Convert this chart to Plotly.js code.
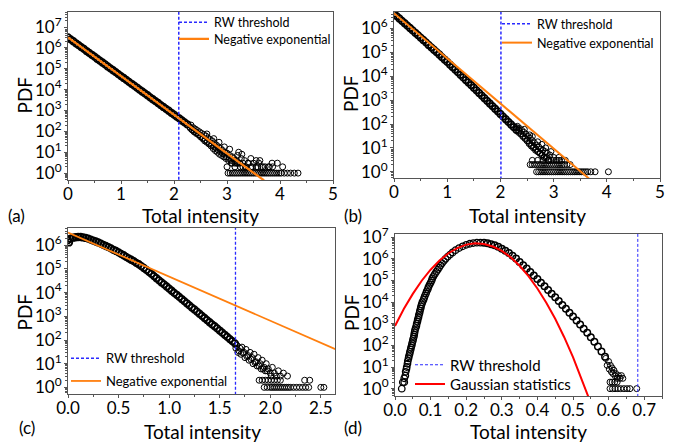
<!DOCTYPE html>
<html><head><meta charset="utf-8">
<script src="https://cdn.plot.ly/plotly-3.0.1.min.js"></script>
<style>html,body{margin:0;padding:0;background:#fff}#chart{width:680px;height:443px}</style>
</head><body><div id="chart"></div>
<script>
// ---------------- Panel (a) ----------------
const aBandX = [0,0.05,0.10,0.15,0.20,0.25,0.30,0.35,0.40,0.45,0.50,0.55,0.60,0.65,0.70,0.75,0.80,0.85,0.90,0.95,1.00,1.05,1.10,1.15,1.20,1.25,1.30,1.35,1.40,1.45,1.50,1.55,1.60,1.65,1.70,1.75,1.80,1.85,1.90,1.95,2.00,2.05,2.10,2.15,2.20,2.25];
const aBandLogPdf = [6.50,6.41,6.32,6.22,6.13,6.04,5.95,5.85,5.76,5.67,5.58,5.48,5.39,5.30,5.21,5.11,5.02,4.93,4.84,4.74,4.65,4.56,4.47,4.37,4.28,4.19,4.10,4.00,3.91,3.82,3.73,3.63,3.54,3.45,3.36,3.26,3.17,3.08,2.99,2.89,2.80,2.71,2.62,2.52,2.43,2.34];
const aTailX = [2.30,2.32,2.34,2.36,2.38,2.40,2.42,2.44,2.46,2.48,2.50,2.52,2.54,2.56,2.58,2.60,2.62,2.64,2.66,2.68,2.70,2.72,2.74,2.76,2.78,2.80,2.82,2.84,2.86,2.88,2.90,2.92,2.94,2.96,2.98,3.00,3.03,3.05,3.08,3.10,3.13,3.15,3.18,3.20,3.24,3.27,3.30,3.33,3.36,3.40,3.45,3.50,3.55,3.60,3.65,3.72,3.80,3.86,3.95,4.05,
  2.31,2.35,2.39,2.43,2.47,2.51,2.55,2.59,2.63,2.67,2.71,2.75,2.79,2.83,2.87,2.91,2.95,2.99,3.04,3.09,3.14,3.19,
  2.62,2.75,2.85,2.95,3.05,3.22,3.28,3.45,3.55,3.62,3.85,
  3.10,3.20,3.30,3.40,3.00,3.15,3.25,3.35,3.48,3.58,3.68,3.78,
  3.02,3.06,3.10,3.14,3.18,3.22,3.26,3.30,3.34,3.38,3.42,3.46,3.50,3.54,3.58,3.62,3.66,3.70,3.74,3.78,3.82,3.86,3.90,3.94,3.98,4.02,4.08,4.14,4.20,4.27,4.34];
const aTailPdf = [160,200,120,150,95,130,80,110,70,95,55,80,45,70,35,60,30,48,25,40,20,35,15,28,12,22,10,18,8,15,7,12,6,10,5,9,4,7,3,6,5,3,4,7,3,5,2,4,2,3,2,3,2,3,2,2,2,2,3,2,
  140,115,100,85,70,58,48,40,33,28,23,19,16,13,11,9,8,6,5,4,4,3,
  75,45,30,18,14,10,8,5,4,4,3,
  3,3,3,3,2,2,2,2,2,2,2,2,
  1,1,1,1,1,1,1,1,1,1,1,1,1,1,1,1,1,1,1,1,1,1,1,1,1,1,1,1,1,1,1];
const aFitX = [0, 3.7];
const aFitLogPdf = [6.50, -0.35];
const aThreshold = 2.09;

// ---------------- Panel (b) ----------------
const bBandX = [0,0.05,0.10,0.15,0.20,0.25,0.30,0.35,0.40,0.45,0.50,0.55,0.60,0.65,0.70,0.75,0.80,0.85,0.90,0.95,1.00,1.05,1.10,1.15,1.20,1.25,1.30,1.35,1.40,1.45,1.50,1.55,1.60,1.65,1.70,1.75,1.80,1.85,1.90,1.95,2.00,2.05,2.10,2.15,2.20,2.25,2.30];
const bBandLogPdf = [6.62,6.52,6.42,6.32,6.22,6.12,6.02,5.92,5.82,5.72,5.62,5.52,5.42,5.31,5.21,5.11,5.01,4.91,4.80,4.70,4.60,4.49,4.38,4.28,4.17,4.06,3.95,3.84,3.74,3.63,3.52,3.41,3.30,3.19,3.08,2.97,2.86,2.75,2.64,2.53,2.42,2.31,2.20,2.09,1.98,1.87,1.76];
const bTailX = [2.32,2.34,2.36,2.38,2.40,2.42,2.44,2.46,2.48,2.50,2.52,2.54,2.56,2.58,2.60,2.62,2.64,2.66,2.68,2.70,2.72,2.74,2.76,2.78,2.80,2.82,2.84,2.86,2.88,2.90,2.93,2.96,3.00,3.05,3.10,3.15,3.22,
  2.31,2.35,2.39,2.43,2.47,2.51,2.55,2.59,2.63,2.67,2.71,2.75,2.79,2.83,2.87,2.91,
  2.45,2.55,2.60,2.70,2.78,2.85,2.95,
  2.60,2.70,2.80,2.90,3.00,3.10,
  2.56,2.60,2.64,2.68,2.72,2.76,2.80,2.84,2.88,2.92,2.96,3.00,3.04,3.08,3.12,3.16,3.20,3.25,3.31,
  2.68,2.72,2.76,2.80,2.84,2.88,2.92,2.96,3.00,3.04,3.08,3.12,3.16,3.20,3.24,3.28,3.32,3.36,3.40,3.44,3.48,3.52,3.56,3.60,3.64,3.70,3.78,4.03];
const bTailPdf = [80,45,65,38,55,30,45,25,38,20,30,15,25,12,20,10,16,8,13,7,11,6,9,5,8,4,7,4,6,3,5,3,4,3,4,3,3,
  70,52,40,32,25,20,16,13,11,9,7,6,5,4,4,3,
  60,35,30,18,14,10,7,
  3,3,3,3,3,3,
  2,2,2,2,2,2,2,2,2,2,2,2,2,2,2,2,2,2,2,
  1,1,1,1,1,1,1,1,1,1,1,1,1,1,1,1,1,1,1,1,1,1,1,1,1,1,1,1];
const bFitX = [0, 3.7];
const bFitLogPdf = [6.64, -0.35];
const bThreshold = 2.01;

// ---------------- Panel (c) ----------------
const cBandX = [0,0.01,0.025,0.05,0.075,0.1,0.125,0.15,0.175,0.2,0.225,0.25,0.275,0.3,0.325,0.35,0.375,0.4,0.425,0.45,0.475,0.5,0.525,0.55,0.575,0.6,0.625,0.65,0.675,0.7,0.725,0.75,0.775,0.8,0.825,0.85,0.875,0.9,0.925,0.95,0.975,1.0,1.025,1.05,1.075,1.1,1.125,1.15,1.175,1.2,1.225,1.25,1.275,1.3,1.325,1.35,1.375,1.4,1.425,1.45,1.475,1.5,1.525,1.55,1.575,1.6,1.625,1.65];
const cBandLogPdf = [6.22,6.12,6.28,6.32,6.34,6.35,6.35,6.33,6.31,6.28,6.24,6.20,6.16,6.12,6.07,6.02,5.97,5.92,5.87,5.81,5.76,5.70,5.64,5.58,5.51,5.45,5.39,5.33,5.26,5.20,5.12,5.04,4.96,4.88,4.79,4.70,4.61,4.52,4.43,4.35,4.26,4.17,4.08,3.99,3.91,3.82,3.73,3.64,3.55,3.46,3.37,3.29,3.20,3.11,3.02,2.93,2.84,2.75,2.66,2.58,2.49,2.40,2.31,2.22,2.13,2.04,1.95,1.86];
const cTailX = [1.67,1.68,1.70,1.71,1.72,1.74,1.75,1.76,1.78,1.79,1.80,1.82,1.83,1.84,1.86,1.87,1.88,1.90,1.91,1.92,1.94,1.95,1.96,1.98,2.00,2.02,2.04,2.06,2.08,2.10,2.13,2.17,
  1.66,1.69,1.73,1.77,1.81,1.85,1.89,1.93,1.97,2.01,
  1.89,1.92,1.95,1.98,2.01,2.04,2.07,2.10,2.34,2.39,
  1.94,1.97,2.00,2.02,2.04,2.06,2.08,2.10,2.12,2.14,2.16,2.18,2.20,2.23,2.26,2.29,2.32,2.35,2.38,2.50,2.53];
const cTailPdf = [60,30,45,25,50,30,18,40,22,14,30,18,10,25,12,8,18,10,6,14,7,5,10,6,4,7,4,3,5,3,4,3,
  45,35,28,20,15,11,8,6,5,3,
  2,2,2,2,2,2,2,2,2,2,
  1,1,1,1,1,1,1,1,1,1,1,1,1,1,1,1,1,1,1,1,1];
const cFitX = [0, 2.7];
const cFitLogPdf = [6.54, 1.51];
const cThreshold = 1.656;

// ---------------- Panel (d) ----------------
const dLeftX = [0.019,0.022,0.026,0.026,0.029,0.030,0.032,0.033,0.035,0.036,0.038,0.039,0.041,0.042,0.044,0.045,0.047,0.048,0.050,0.051,0.053,0.054,0.055,0.056,0.058,0.060,0.061,0.063,0.064,0.066,0.067,0.069,0.070,0.072,0.073,0.075,0.077,0.080,0.082,0.084,0.087,0.089,0.092,0.094,0.097,0.100,0.103,0.105,0.108,0.112,0.116,0.120,0.124,0.128,0.132,0.137,0.142,0.148,0.155,0.162,0.170,0.180,0.190,0.200,0.210,0.220,0.230,0.240];
const dLeftLogPdf = [0.0,0.3,0.3,0.48,0.6,0.78,0.9,1.0,1.15,1.28,1.4,1.5,1.6,1.7,1.8,1.9,2.0,2.1,2.2,2.3,2.4,2.5,2.6,2.7,2.8,2.9,3.0,3.1,3.2,3.3,3.4,3.5,3.6,3.7,3.8,3.9,4.0,4.1,4.2,4.3,4.4,4.5,4.6,4.7,4.8,4.9,5.0,5.1,5.2,5.3,5.4,5.5,5.6,5.7,5.8,5.9,6.0,6.1,6.2,6.3,6.4,6.5,6.58,6.65,6.7,6.73,6.75,6.75];
const dRightX = [0.25,0.26,0.27,0.28,0.29,0.30,0.31,0.32,0.33,0.34,0.35,0.36,0.37,0.38,0.39,0.40,0.41,0.42,0.43,0.44,0.45,0.46,0.47,0.48,0.49,0.50,0.51,0.52,0.53,0.54,0.55,0.56,0.57,0.58,0.59];
const dRightLogPdf = [6.74,6.72,6.68,6.63,6.56,6.47,6.38,6.27,6.15,6.02,5.85,5.70,5.55,5.39,5.23,5.07,4.90,4.73,4.56,4.39,4.22,4.05,3.87,3.69,3.51,3.33,3.15,2.96,2.77,2.58,2.38,2.17,1.95,1.72,1.48];
const dTailX = [0.592,0.596,0.600,0.602,0.605,0.608,0.610,0.612,0.615,0.618,0.620,0.624,0.628,0.632,0.636,0.640,
  0.604,0.610,0.617,0.624,
  0.604,0.611,0.618,0.626,0.634,0.643,0.652,0.660,0.679];
const dTailPdf = [25,12,18,8,12,6,9,5,7,4,5,3,4,3,4,3,
  2,2,2,2,
  1,1,1,1,1,1,1,1,1];
const dGaussX = [0,0.025,0.05,0.075,0.1,0.125,0.15,0.175,0.2,0.225,0.25,0.275,0.3,0.325,0.35,0.375,0.4,0.425,0.45,0.475,0.5,0.525,0.55];
const dGaussLogPdf = [2.90,3.69,4.38,4.99,5.50,5.92,6.26,6.50,6.66,6.72,6.69,6.57,6.37,6.07,5.68,5.20,4.63,3.97,3.23,2.39,1.46,0.44,-0.67];
const dThreshold = 0.682;

// ---------------- Tick labels & texts ----------------
const yTickVals = [1,10,100,1e3,1e4,1e5,1e6,1e7];
const yTickText = ['10<sup>0</sup>','10<sup>1</sup>','10<sup>2</sup>','10<sup>3</sup>','10<sup>4</sup>','10<sup>5</sup>','10<sup>6</sup>','10<sup>7</sup>'];
const labelThreshold = 'RW threshold';
const labelExp = 'Negative exponential';
const labelGauss = 'Gaussian statistics';
const xTitle = 'Total intensity';
const yTitle = 'PDF';
const panelLetters = ['(a)','(b)','(c)','(d)'];

// ---------------- Build ----------------
const FONT = 'Lato, "Open Sans", sans-serif';
const W = 680, H = 443;
const px = v => v / W, py = v => 1 - v / H;
const p10 = a => a.map(v => Math.pow(10, v));
const BLUE = '#2a2aff', ORANGE = '#ff7f0e', RED = '#ff0000';

function pts(x, y, xa, ya, size, lw) {
  return {type:'scatter', mode:'markers', x:x, y:y, xaxis:xa, yaxis:ya, showlegend:false, hoverinfo:'skip',
    marker:{symbol:'circle-open', size:size, color:'#000', line:{width:lw, color:'#000'}}};
}
function vline(t, xa, ya, leg, w) {
  return {type:'scatter', mode:'lines', x:[t,t], y:[1e-2,1e9], xaxis:xa, yaxis:ya, legend:leg, name:labelThreshold,
    line:{color:BLUE, width:w, dash:'3px,2px'}, hoverinfo:'skip'};
}
function fit(x, y, xa, ya, leg, name, color, w) {
  return {type:'scatter', mode:'lines', x:x, y:y, xaxis:xa, yaxis:ya, legend:leg, name:name,
    line:{color:color, width:w}, hoverinfo:'skip'};
}

const traces = [
  pts(aBandX, p10(aBandLogPdf), 'x', 'y', 6.5, 1.8),
  pts(aTailX, aTailPdf, 'x', 'y', 6, 1),
  vline(aThreshold, 'x', 'y', 'legend', 1.5),
  fit(aFitX, p10(aFitLogPdf), 'x', 'y', 'legend2', labelExp, ORANGE, 2.2),

  pts(bBandX, p10(bBandLogPdf), 'x2', 'y2', 6.5, 1.8),
  pts(bTailX, bTailPdf, 'x2', 'y2', 6, 1),
  vline(bThreshold, 'x2', 'y2', 'legend3', 1.5),
  fit(bFitX, p10(bFitLogPdf), 'x2', 'y2', 'legend4', labelExp, ORANGE, 2),

  pts(cBandX, p10(cBandLogPdf), 'x3', 'y3', 6.5, 1.8),
  pts(cTailX, cTailPdf, 'x3', 'y3', 6, 1),
  vline(cThreshold, 'x3', 'y3', 'legend5', 1.3),
  fit(cFitX, p10(cFitLogPdf), 'x3', 'y3', 'legend6', labelExp, ORANGE, 1.8),

  pts(dLeftX, p10(dLeftLogPdf), 'x4', 'y4', 6.5, 1.3),
  pts(dRightX, p10(dRightLogPdf), 'x4', 'y4', 6.5, 1.5),
  pts(dTailX, dTailPdf, 'x4', 'y4', 6, 1),
  vline(dThreshold, 'x4', 'y4', 'legend7', 1),
  fit(dGaussX, p10(dGaussLogPdf), 'x4', 'y4', 'legend8', labelGauss, RED, 2)
];

const base = {showline:true, linecolor:'#555', linewidth:1, mirror:true, ticks:'outside', ticklen:3, tickwidth:1,
  tickcolor:'#555', showgrid:false, zeroline:false, tickfont:{family:FONT, size:17, color:'#000'}};
function xax(dom, range, dtick, anchor, fmt) {
  return Object.assign({}, base, {domain:dom, range:range, dtick:dtick, tick0:0, anchor:anchor, tickformat:fmt,
    ticklabelstandoff:-4, minor:{ticks:'outside', ticklen:2, dtick:dtick/2, tickcolor:'#555'}});
}
function yax(dom, range, anchor) {
  const n = Math.floor(range[1]) + 1;
  return Object.assign({}, base, {type:'log', domain:dom, range:range, anchor:anchor, tickmode:'array',
    tickvals:yTickVals.slice(0, n), ticktext:yTickText.slice(0, n), ticklabelstandoff:-1,
    minor:{ticks:'outside', ticklen:2, dtick:'D1', tickcolor:'#555'}});
}
function leg(x, yc, size) {
  return {x:px(x), y:py(yc), xanchor:'left', yanchor:'middle', bgcolor:'rgba(0,0,0,0)', borderwidth:0,
    font:{family:FONT, size:size, color:'#000'}, itemwidth:30};
}
function ann(text, x, y, size, angle) {
  return {text:text, xref:'paper', yref:'paper', x:px(x), y:py(y), xanchor:'center', yanchor:'middle', showarrow:false,
    textangle:angle || 0, font:{family:FONT, size:size, color:'#000'}};
}

const layout = {
  width:W, height:H, margin:{l:0, r:0, t:0, b:0}, paper_bgcolor:'#fff', plot_bgcolor:'#fff', showlegend:true,
  font:{family:FONT, color:'#000'},
  xaxis: xax([px(68), px(333)], [0, 5], 1, 'y', ''),
  yaxis: yax([py(180), py(12)], [-0.33, 7.72], 'x'),
  xaxis2: xax([px(394), px(660)], [0, 5], 1, 'y2', ''),
  yaxis2: yax([py(178), py(12)], [-0.26, 6.69], 'x2'),
  xaxis3: xax([px(68), px(335)], [0, 2.64], 0.5, 'y3', '.1f'),
  yaxis3: yax([py(394), py(228)], [-0.28, 6.73], 'x3'),
  xaxis4: xax([px(395), px(662)], [0, 0.75], 0.1, 'y4', '.1f'),
  yaxis4: yax([py(396), py(234)], [-0.34, 7.15], 'x4'),
  legend:  leg(174, 22.7, 12.5),
  legend2: leg(174, 39.3, 12.5),
  legend3: leg(497, 24, 12.5),
  legend4: leg(497, 43, 12.5),
  legend5: leg(66, 358.3, 13),
  legend6: leg(66, 381, 13),
  legend7: leg(410, 365, 15),
  legend8: leg(410, 384.3, 15),
  annotations: [
    ann(xTitle, 200, 215.5, 19), ann(xTitle, 527, 215.5, 19),
    ann(xTitle, 202, 431, 19), ann(xTitle, 528, 431, 19),
    ann(yTitle, 23.5, 95, 19, -90), ann(yTitle, 351, 94, 19, -90),
    ann(yTitle, 23.5, 312, 19, -90), ann(yTitle, 351, 313, 19, -90),
    ann(panelLetters[0], 16, 215, 17), ann(panelLetters[1], 353, 215, 17),
    ann(panelLetters[2], 27, 427, 17), ann(panelLetters[3], 353, 427, 17)
  ]
};

Plotly.newPlot('chart', traces, layout, {staticPlot:true, displayModeBar:false});
</script></body></html>
